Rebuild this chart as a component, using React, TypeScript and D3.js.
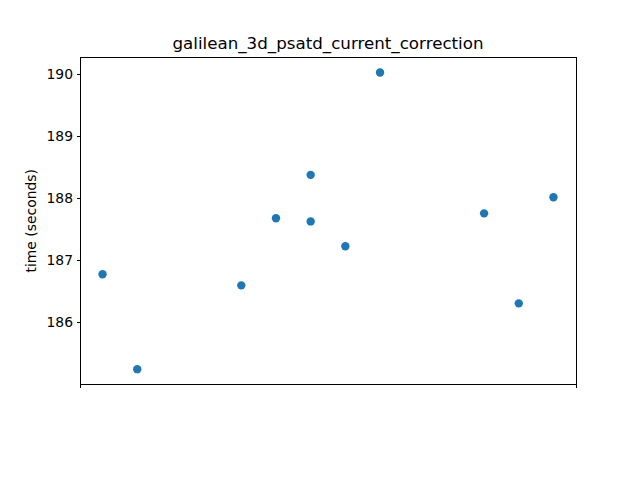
import React from "react";
import * as d3 from "d3";

const title = "galilean_3d_psatd_current_correction";
const yLabel = "time (seconds)";
const runIndex = [0, 1, 4, 5, 6, 6, 7, 8, 11, 12, 13];
const timeSeconds = [186.78, 185.25, 186.6, 187.68, 188.38, 187.63, 187.23, 190.03, 187.76, 186.31, 188.02];
const yTicks = [186, 187, 188, 189, 190];

const W = 640;
const H = 480;
const left = 80;
const right = 576;
const top = 57.6;
const bottom = 384;
const font = "DejaVu Sans, sans-serif";

export default function App() {
  const xMin = d3.min(runIndex)!;
  const xMax = d3.max(runIndex)!;
  const xPad = (xMax - xMin) * 0.05;
  const yMin = d3.min(timeSeconds)!;
  const yMax = d3.max(timeSeconds)!;
  const yPad = (yMax - yMin) * 0.05;
  const x = d3.scaleLinear().domain([xMin - xPad, xMax + xPad]).range([left, right]);
  const y = d3.scaleLinear().domain([yMin - yPad, yMax + yPad]).range([bottom, top]);
  const xTickVals = x.domain();

  return (
    <svg width={W} height={H} style={{ position: "absolute", left: 0, top: 0, background: "#fff" }}>
      <rect x={0} y={0} width={W} height={H} fill="#fff" />
      {runIndex.map((xi, i) => (
        <circle key={i} cx={x(xi)} cy={y(timeSeconds[i])} r={4.2} fill="#1f77b4" />
      ))}
      <rect x={left} y={top} width={right - left} height={bottom - top} fill="none" stroke="#000" strokeWidth={1} shapeRendering="crispEdges" />
      {yTicks.map((t) => (
        <g key={t}>
          <line x1={left - 3.5} x2={left} y1={y(t)} y2={y(t)} stroke="#000" strokeWidth={1} shapeRendering="crispEdges" />
          <text x={left - 7} y={y(t)} dy="0.35em" textAnchor="end" fontFamily={font} fontSize={13.9} fill="#000">
            {t}
          </text>
        </g>
      ))}
      {xTickVals.map((t, i) => (
        <line key={i} x1={x(t)} x2={x(t)} y1={bottom} y2={bottom + 3.5} stroke="#000" strokeWidth={1} shapeRendering="crispEdges" />
      ))}
      <text x={(left + right) / 2} y={top - 8.3} textAnchor="middle" fontFamily={font} fontSize={16.7} fill="#000">
        {title}
      </text>
      <text transform={`translate(${36}, ${(top + bottom) / 2}) rotate(-90)`} textAnchor="middle" fontFamily={font} fontSize={13.9} fill="#000">
        {yLabel}
      </text>
    </svg>
  );
}
